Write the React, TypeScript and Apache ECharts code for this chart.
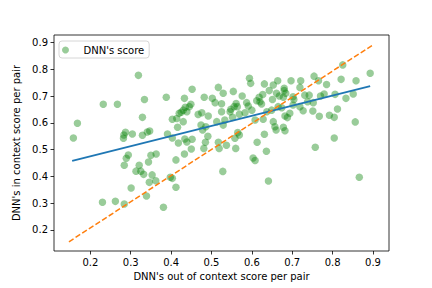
import React, { useEffect, useRef } from "react";
import * as echarts from "echarts";

// DNN's out of context score per pair (x) and in context score (y)
const outContext: number[] = [
  0.158, 0.168, 0.232, 0.267, 0.319, 0.334, 0.329, 0.287, 0.283, 0.282,
  0.304, 0.329, 0.341, 0.347, 0.294, 0.289, 0.284, 0.321, 0.350, 0.363,
  0.344, 0.313, 0.325, 0.332, 0.353, 0.362, 0.346, 0.301, 0.339, 0.230,
  0.262, 0.284, 0.381, 0.412, 0.398, 0.403, 0.412, 0.433, 0.450, 0.481,
  0.485, 0.491, 0.517, 0.519, 0.528, 0.418, 0.434, 0.439, 0.452, 0.391,
  0.403, 0.537, 0.558, 0.560, 0.565, 0.569, 0.603, 0.608, 0.613, 0.631,
  0.636, 0.641, 0.660, 0.682, 0.757, 0.804, 0.866, 0.478, 0.388, 0.433,
  0.452, 0.482, 0.502, 0.517, 0.529, 0.554, 0.509, 0.525, 0.449, 0.445,
  0.435, 0.430, 0.425, 0.420, 0.439, 0.476, 0.467, 0.492, 0.403, 0.414,
  0.430, 0.416, 0.474, 0.486, 0.525, 0.546, 0.548, 0.556, 0.533, 0.513,
  0.529, 0.594, 0.597, 0.576, 0.631, 0.653, 0.664, 0.680, 0.680, 0.697,
  0.721, 0.719, 0.643, 0.661, 0.668, 0.678, 0.627, 0.618, 0.612, 0.651,
  0.684, 0.702, 0.731, 0.587, 0.591, 0.620, 0.624, 0.561, 0.564, 0.600,
  0.583, 0.569, 0.665, 0.674, 0.702, 0.719, 0.727, 0.649, 0.637, 0.694,
  0.682, 0.628, 0.608, 0.653, 0.678, 0.657, 0.552, 0.754, 0.765, 0.785,
  0.825, 0.893, 0.858, 0.821, 0.806, 0.779, 0.770, 0.742, 0.833, 0.851,
  0.812, 0.804, 0.792, 0.767, 0.856, 0.752, 0.738, 0.751, 0.704, 0.688,
];
const inContext: number[] = [
  0.544, 0.599, 0.670, 0.670, 0.778, 0.688, 0.621, 0.565, 0.555, 0.543,
  0.559, 0.554, 0.566, 0.570, 0.480, 0.468, 0.442, 0.442, 0.479, 0.484,
  0.454, 0.420, 0.420, 0.408, 0.406, 0.384, 0.378, 0.357, 0.327, 0.304,
  0.307, 0.297, 0.285, 0.360, 0.397, 0.393, 0.462, 0.484, 0.503, 0.505,
  0.528, 0.550, 0.528, 0.505, 0.419, 0.525, 0.540, 0.529, 0.539, 0.559,
  0.544, 0.517, 0.543, 0.505, 0.564, 0.555, 0.469, 0.460, 0.528, 0.558,
  0.494, 0.383, 0.574, 0.571, 0.509, 0.544, 0.397, 0.574, 0.696, 0.692,
  0.726, 0.696, 0.692, 0.733, 0.711, 0.718, 0.676, 0.672, 0.670, 0.661,
  0.659, 0.648, 0.640, 0.636, 0.642, 0.638, 0.632, 0.626, 0.614, 0.617,
  0.605, 0.584, 0.592, 0.586, 0.642, 0.642, 0.651, 0.661, 0.611, 0.605,
  0.592, 0.767, 0.748, 0.701, 0.746, 0.742, 0.758, 0.730, 0.721, 0.758,
  0.758, 0.733, 0.721, 0.711, 0.701, 0.696, 0.706, 0.696, 0.683, 0.688,
  0.711, 0.698, 0.704, 0.676, 0.663, 0.679, 0.671, 0.673, 0.661, 0.648,
  0.638, 0.633, 0.661, 0.657, 0.667, 0.661, 0.646, 0.648, 0.642, 0.636,
  0.626, 0.614, 0.611, 0.605, 0.584, 0.586, 0.621, 0.775, 0.758, 0.744,
  0.817, 0.786, 0.758, 0.763, 0.707, 0.708, 0.701, 0.704, 0.692, 0.708,
  0.652, 0.621, 0.629, 0.625, 0.604, 0.676, 0.679, 0.645, 0.688, 0.620,
];

// Fitted regression line (blue) and reference diagonal (orange dashed)
const fitX: number[] = [0.155, 0.893];
const fitY: number[] = [0.458, 0.738];
const diagX: number[] = [0.147, 0.9005];
const diagY: number[] = [0.156, 0.8925];

const tickValues: number[] = [0.2, 0.3, 0.4, 0.5, 0.6, 0.7, 0.8, 0.9];

const seriesName = "DNN's score";
const xTitle = "DNN's out of context score per pair";
const yTitle = "DNN's in context score per pair";

const FONT = "DejaVu Sans";

export default function App() {
  const ref = useRef<HTMLDivElement>(null);

  useEffect(() => {
    if (!ref.current) return;
    const chart = echarts.init(ref.current, undefined, { renderer: "svg" });
    const points = outContext.map((x, i) => [x, inContext[i]]);
    const fit = fitX.map((x, i) => [x, fitY[i]]);
    const diag = diagX.map((x, i) => [x, diagY[i]]);

    const axisCommon = {
      type: "value" as const,
      splitLine: { show: false },
      axisLine: { show: false },
      axisTick: {
        show: true,
        customValues: tickValues,
        length: 3.5,
        lineStyle: { color: "#000", width: 0.8 },
      },
      axisLabel: {
        customValues: tickValues,
        formatter: (v: number) => v.toFixed(1),
        color: "#000",
        fontFamily: FONT,
        fontSize: 10,
        margin: 6,
      },
      nameLocation: "middle" as const,
      nameTextStyle: { color: "#000", fontFamily: FONT, fontSize: 10 },
    };

    chart.setOption({
      animation: false,
      backgroundColor: "#fff",
      textStyle: { fontFamily: FONT },
      grid: {
        left: 54,
        right: 43,
        top: 35,
        bottom: 37,
        show: true,
        borderColor: "#000",
        borderWidth: 0.8,
        backgroundColor: "transparent",
      },
      legend: {
        show: true,
        data: [
          {
            name: seriesName,
            icon: "circle",
            itemStyle: { color: "rgba(0,128,0,0.5)" },
          },
        ],
        left: 59,
        top: 41,
        itemWidth: 22,
        itemHeight: 7,
        padding: [4, 5, 3, 3],
        backgroundColor: "#fff",
        borderColor: "#cccccc",
        borderWidth: 0.8,
        borderRadius: 3,
        textStyle: { color: "#000", fontFamily: FONT, fontSize: 10, padding: [0, 0, 0, 2] },
      },
      xAxis: {
        ...axisCommon,
        min: 0.110,
        max: 0.9396,
        name: xTitle,
        nameGap: 20,
      },
      yAxis: {
        ...axisCommon,
        min: 0.1215,
        max: 0.9288,
        name: yTitle,
        nameGap: 25,
      },
      series: [
        {
          name: seriesName,
          type: "scatter",
          data: points,
          symbol: "circle",
          symbolSize: 7.5,
          itemStyle: { color: "rgba(0,128,0,0.5)", borderWidth: 0 },
          z: 2,
        },
        {
          name: "fit",
          type: "line",
          data: fit,
          symbol: "none",
          lineStyle: { color: "#1f77b4", width: 1.8 },
          z: 3,
        },
        {
          name: "diag",
          type: "line",
          data: diag,
          symbol: "none",
          lineStyle: { color: "#ff7f0e", width: 1.5, type: [5.5, 2.4] },
          z: 4,
        },
      ],
    });
    return () => chart.dispose();
  }, []);

  return (
    <div
      ref={ref}
      style={{ position: "fixed", left: 0, top: 0, width: 432, height: 288 }}
    />
  );
}
